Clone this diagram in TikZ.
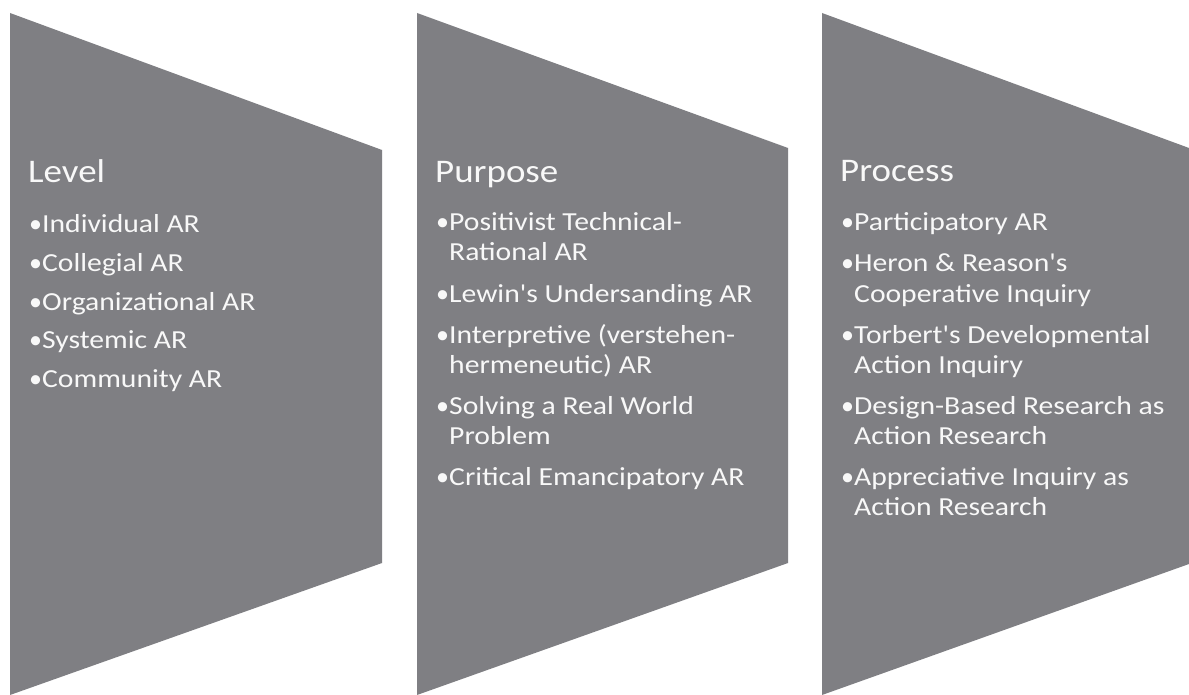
\documentclass[tikz,border=0pt]{standalone}
\usepackage{fontspec}
\setmainfont{Carlito}
\definecolor{panel}{RGB}{127,127,131}
\definecolor{ink}{RGB}{248,248,248}
\newcommand\wtext[1]{\scalebox{1.14}[1]{#1}}
\newcommand\ttext[1]{\scalebox{1.12}[1]{#1}}
\newcommand\bul{\makebox[13pt][l]{•}}
\newcommand\apo{\textquotesingle}
\begin{document}
\begin{tikzpicture}[x=1pt,y=-1pt,
  panelshape/.style={fill=panel,draw=none},
  ttl/.style={anchor=base west,inner sep=0pt,text=ink,font=\fontsize{33}{40}\selectfont},
  itm/.style={anchor=base west,inner sep=0pt,text=ink,font=\fontsize{26}{30}\selectfont}]
\useasboundingbox (0,0) rectangle (1189,695);
\fill[white] (0,0) rectangle (1189,695);
% panels
\fill[panelshape] (10,13) -- (382,150) -- (382,563) -- (10,695) -- cycle;
\fill[panelshape] (417,13) -- (788,148) -- (788,563) -- (417,695) -- cycle;
\fill[panelshape] (822,13) -- (1189,148) -- (1189,564) -- (822,695) -- cycle;
% Level
\node[ttl] (l0) at (28,183) {\ttext{Level}};
\node[itm] (l1) at (29,233) {\bul\wtext{Individual AR}};
\node[itm] (l2) at (29,271.5) {\bul\wtext{Collegial AR}};
\node[itm] (l3) at (29,310) {\bul\wtext{Organizational AR}};
\node[itm] (l4) at (29,348.5) {\bul\wtext{Systemic AR}};
\node[itm] (l5) at (29,387) {\bul\wtext{Community AR}};
% Purpose
\node[ttl] (p0) at (435,183) {\ttext{Purpose}};
\node[itm] (p1) at (436,231) {\bul\wtext{Positivist Technical-}};
\node[itm] (p1b) at (449,261) {\wtext{Rational AR}};
\node[itm] (p2) at (436,302) {\bul\wtext{Lewin\apo s Undersanding AR}};
\node[itm] (p3) at (436,343) {\bul\wtext{Interpretive (verstehen-}};
\node[itm] (p3b) at (449,373) {\wtext{hermeneutic) AR}};
\node[itm] (p4) at (436,414) {\bul\wtext{Solving a Real World}};
\node[itm] (p4b) at (449,444) {\wtext{Problem}};
\node[itm] (p5) at (436,485) {\bul\wtext{Critical Emancipatory AR}};
% Process
\node[ttl] (r0) at (840,182) {\ttext{Process}};
\node[itm] (r1) at (841,231) {\bul\wtext{Participatory AR}};
\node[itm] (r2) at (841,272) {\bul\wtext{Heron \& Reason\apo s}};
\node[itm] (r2b) at (854,302) {\wtext{Cooperative Inquiry}};
\node[itm] (r3) at (841,343) {\bul\wtext{Torbert\apo s Developmental}};
\node[itm] (r3b) at (854,373) {\wtext{Action Inquiry}};
\node[itm] (r4) at (841,414) {\bul\wtext{Design-Based Research as}};
\node[itm] (r4b) at (854,444) {\wtext{Action Research}};
\node[itm] (r5) at (841,485) {\bul\wtext{Appreciative Inquiry as}};
\node[itm] (r5b) at (854,515) {\wtext{Action Research}};
\end{tikzpicture}
\end{document}
